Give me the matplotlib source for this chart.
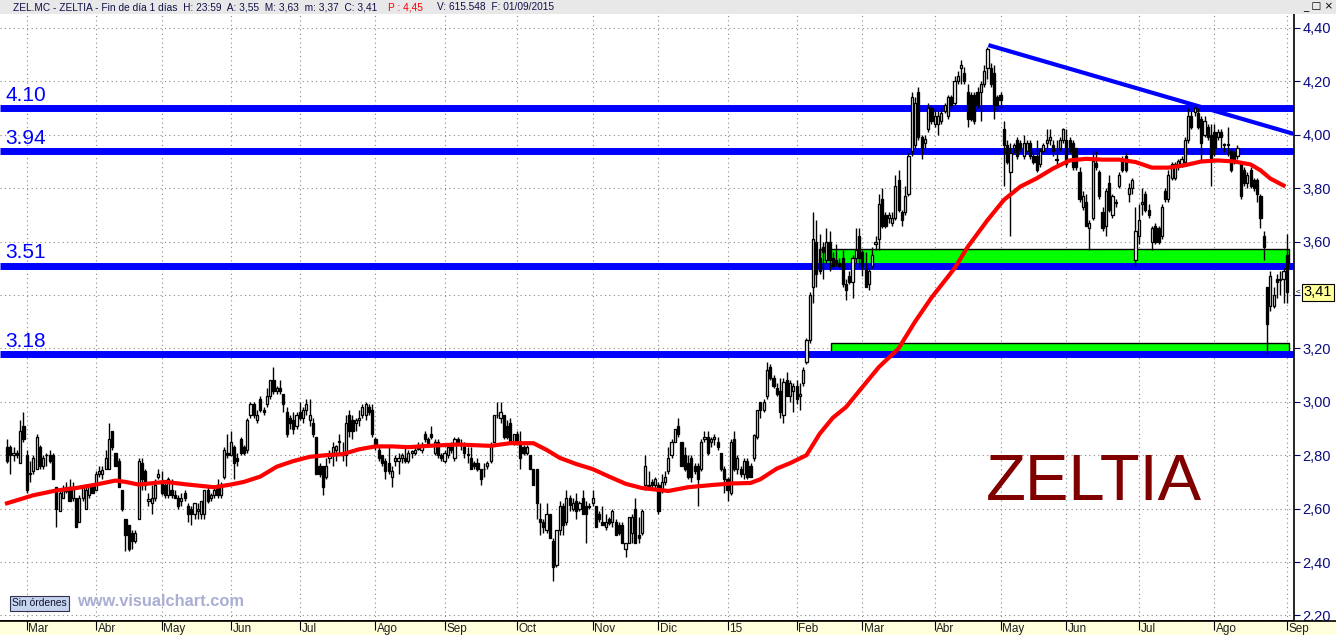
import matplotlib
matplotlib.use('Agg')
import matplotlib.pyplot as plt
import matplotlib.transforms as mtransforms
from matplotlib.patches import Rectangle
import numpy as np

plt.rcParams['font.family'] = ['Liberation Sans', 'DejaVu Sans']

# ---------------- DATA ----------------
# Daily candles, ZEL.MC, late Feb 2014 .. 1 Sep 2015 (one row per month)
opens = [
    2.83, 2.83, 2.80, 2.81, 2.77, 2.91,
    2.80, 2.73, 2.74, 2.75, 2.83, 2.76, 2.80, 2.80, 2.80, 2.68, 2.59, 2.64, 2.665, 2.68, 2.64, 2.64, 2.55, 2.64, 2.60, 2.65, 2.69,
    2.67, 2.73, 2.73, 2.75, 2.75, 2.89, 2.81, 2.78, 2.67, 2.56, 2.54, 2.51, 2.48, 2.56, 2.77, 2.74, 2.63, 2.62, 2.64, 2.72,
    2.70, 2.69, 2.65, 2.67, 2.65, 2.64, 2.63, 2.66, 2.61, 2.60, 2.58, 2.59, 2.58, 2.58, 2.67, 2.64, 2.65, 2.68, 2.65, 2.72, 2.81,
    2.80, 2.83, 2.79, 2.86, 2.83, 2.82, 2.95, 2.99, 2.93, 3.01, 2.97, 2.99, 3.02, 3.08, 3.04, 3.05, 3.03, 2.96, 2.94, 2.93, 2.91,
    2.96, 2.94, 2.97, 2.93, 2.92, 2.87, 2.76, 2.76, 2.72, 2.79, 2.81, 2.82, 2.85, 2.80, 2.80, 2.95, 2.93, 2.92, 2.93, 2.95, 2.95, 2.98, 2.97,
    2.86, 2.82, 2.80, 2.78, 2.77, 2.72, 2.78, 2.78, 2.79, 2.79, 2.78, 2.81, 2.81, 2.83, 2.82, 2.88, 2.86, 2.88, 2.81, 2.85, 2.80,
    2.78, 2.80, 2.83, 2.79, 2.86, 2.84, 2.83, 2.80, 2.79, 2.77, 2.77, 2.75, 2.75, 2.76, 2.78, 2.85, 2.95, 2.94, 2.95, 2.91, 2.92, 2.85,
    2.88, 2.85, 2.83, 2.81, 2.80, 2.75, 2.75, 2.56, 2.55, 2.52, 2.58, 2.48, 2.39, 2.52, 2.61, 2.55, 2.64, 2.60, 2.63, 2.60, 2.64, 2.61, 2.61,
    2.62, 2.61, 2.58, 2.55, 2.53, 2.56, 2.55, 2.55, 2.54, 2.54, 2.45, 2.47, 2.51, 2.60, 2.50, 2.51, 2.69, 2.69, 2.70, 2.69,
    2.69, 2.67, 2.70, 2.74, 2.80, 2.85, 2.91, 2.85, 2.80, 2.77, 2.79, 2.76, 2.76, 2.75, 2.86, 2.87, 2.85, 2.86, 2.85, 2.81, 2.75,
    2.71, 2.66, 2.86, 2.75, 2.75, 2.73, 2.78, 2.76, 2.79, 2.87, 3.00, 2.97, 3.02, 3.13, 3.09, 3.05, 3.04, 2.95, 3.08, 3.02, 3.04,
    3.06, 3.02, 3.07, 3.15, 3.23, 3.43, 3.60, 3.54, 3.58, 3.53, 3.60, 3.54, 3.53, 3.52, 3.54, 3.44, 3.47, 3.45, 3.54, 3.62,
    3.56, 3.50, 3.44, 3.51, 3.59, 3.61, 3.76, 3.70, 3.69, 3.67, 3.69, 3.83, 3.71, 3.71, 3.78, 3.94, 3.96, 4.16, 3.99, 3.97, 4.02, 4.10,
    4.04, 4.04, 4.05, 4.09, 4.07, 4.14, 4.12, 4.20, 4.25, 4.23, 4.16, 4.15, 4.15, 4.16, 4.16, 4.19, 4.25, 4.25, 4.23, 4.14,
    4.15, 4.02, 3.96, 3.86, 3.95, 3.98, 3.97, 3.92, 3.94, 3.97, 3.92, 3.92, 3.89, 3.94, 3.97, 3.98, 3.96, 3.905, 3.95, 3.98,
    3.98, 3.98, 3.97, 3.95, 3.86, 3.73, 3.75, 3.65, 3.69, 3.895, 3.86, 3.71, 3.66, 3.82, 3.70, 3.745, 3.81, 3.91, 3.92, 3.78, 3.80, 3.53,
    3.62, 3.74, 3.78, 3.72, 3.60, 3.66, 3.65, 3.62, 3.79, 3.76, 3.84, 3.84, 3.88, 3.89, 3.90, 3.98, 4.07, 4.085, 4.08, 4.06, 4.00, 4.03, 4.00,
    4.01, 3.99, 4.01, 3.965, 3.96, 3.94, 3.93, 3.92, 3.89, 3.87, 3.82, 3.87, 3.83, 3.83, 3.77, 3.62, 3.43, 3.36, 3.36, 3.46, 3.455, 3.46,
    3.55,
]
highs = [
    2.86, 2.84, 2.83, 2.82, 2.93, 2.96,
    2.82, 2.78, 2.80, 2.88, 2.84, 2.80, 2.81, 2.82, 2.81, 2.68, 2.67, 2.69, 2.70, 2.71, 2.70, 2.64, 2.65, 2.69, 2.68, 2.69, 2.69,
    2.74, 2.76, 2.76, 2.82, 2.92, 2.89, 2.81, 2.79, 2.67, 2.56, 2.54, 2.52, 2.52, 2.79, 2.79, 2.75, 2.66, 2.69, 2.71, 2.75,
    2.74, 2.70, 2.72, 2.71, 2.67, 2.65, 2.66, 2.67, 2.62, 2.61, 2.62, 2.62, 2.63, 2.67, 2.68, 2.66, 2.68, 2.71, 2.70, 2.83, 2.88,
    2.89, 2.84, 2.81, 2.87, 2.84, 2.94, 3.00, 3.00, 2.97, 3.02, 2.98, 3.05, 3.08, 3.13, 3.06, 3.08, 3.03, 2.98, 2.95, 2.96, 2.96,
    3.00, 2.98, 3.01, 3.01, 2.94, 2.87, 2.77, 2.76, 2.79, 2.82, 2.85, 2.84, 2.88, 2.85, 2.95, 2.97, 2.95, 2.94, 2.97, 2.99, 3.00, 2.99, 2.99,
    2.87, 2.83, 2.80, 2.79, 2.84, 2.76, 2.80, 2.81, 2.81, 2.83, 2.82, 2.82, 2.83, 2.85, 2.85, 2.89, 2.87, 2.91, 2.86, 2.86, 2.81,
    2.82, 2.84, 2.85, 2.87, 2.87, 2.86, 2.85, 2.83, 2.83, 2.78, 2.79, 2.75, 2.77, 2.78, 2.85, 2.95, 3.00, 3.00, 2.95, 2.93, 2.94, 2.88,
    2.89, 2.89, 2.84, 2.84, 2.80, 2.75, 2.75, 2.62, 2.56, 2.62, 2.58, 2.49, 2.52, 2.63, 2.62, 2.67, 2.65, 2.64, 2.66, 2.63, 2.67, 2.63, 2.62,
    2.67, 2.61, 2.59, 2.61, 2.58, 2.57, 2.60, 2.56, 2.55, 2.55, 2.47, 2.57, 2.58, 2.64, 2.57, 2.60, 2.80, 2.74, 2.71, 2.72,
    2.70, 2.73, 2.74, 2.83, 2.86, 2.90, 2.94, 2.85, 2.83, 2.80, 2.80, 2.77, 2.77, 2.86, 2.89, 2.89, 2.87, 2.88, 2.87, 2.81, 2.76,
    2.72, 2.86, 2.89, 2.80, 2.76, 2.79, 2.79, 2.77, 2.88, 2.97, 3.00, 3.01, 3.15, 3.14, 3.10, 3.07, 3.09, 3.09, 3.11, 3.08, 3.07,
    3.08, 3.07, 3.13, 3.24, 3.41, 3.71, 3.68, 3.63, 3.60, 3.65, 3.64, 3.56, 3.59, 3.54, 3.57, 3.46, 3.49, 3.55, 3.65, 3.65,
    3.57, 3.56, 3.50, 3.58, 3.62, 3.78, 3.80, 3.71, 3.71, 3.71, 3.85, 3.87, 3.72, 3.81, 3.93, 4.16, 4.14, 4.18, 4.00, 4.00, 4.12, 4.11,
    4.095, 4.09, 4.10, 4.12, 4.15, 4.15, 4.22, 4.24, 4.28, 4.255, 4.19, 4.16, 4.16, 4.18, 4.20, 4.26, 4.33, 4.27, 4.26, 4.15,
    4.16, 4.05, 3.98, 3.97, 3.97, 3.99, 3.98, 4.00, 3.98, 3.98, 3.94, 3.98, 3.95, 3.97, 4.02, 4.02, 3.98, 3.98, 3.99, 4.025,
    4.02, 3.99, 3.98, 3.95, 3.88, 3.79, 3.78, 3.68, 3.94, 3.94, 3.87, 3.73, 3.80, 3.85, 3.78, 3.76, 3.86, 3.92, 3.93, 3.82, 3.84, 3.73,
    3.74, 3.80, 3.79, 3.74, 3.66, 3.67, 3.66, 3.74, 3.80, 3.87, 3.90, 3.90, 3.91, 3.92, 3.99, 4.10, 4.09, 4.11, 4.10, 4.07, 4.07, 4.04, 4.04,
    4.04, 4.02, 4.02, 3.97, 4.03, 3.95, 3.94, 3.96, 3.90, 3.88, 3.86, 3.88, 3.84, 3.84, 3.78, 3.64, 3.43, 3.49, 3.43, 3.48, 3.49, 3.50,
    3.63,
]
lows = [
    2.77, 2.73, 2.78, 2.79, 2.77, 2.85,
    2.66, 2.70, 2.73, 2.75, 2.75, 2.75, 2.76, 2.77, 2.71, 2.53, 2.59, 2.64, 2.66, 2.63, 2.63, 2.53, 2.55, 2.63, 2.60, 2.64, 2.66,
    2.67, 2.72, 2.71, 2.75, 2.75, 2.82, 2.76, 2.68, 2.59, 2.44, 2.44, 2.45, 2.47, 2.56, 2.67, 2.67, 2.61, 2.58, 2.63, 2.71,
    2.65, 2.64, 2.64, 2.64, 2.64, 2.60, 2.61, 2.63, 2.55, 2.54, 2.56, 2.56, 2.56, 2.56, 2.62, 2.63, 2.64, 2.64, 2.64, 2.71, 2.79,
    2.80, 2.71, 2.76, 2.80, 2.80, 2.81, 2.94, 2.94, 2.92, 2.96, 2.95, 2.98, 3.01, 3.03, 3.03, 3.03, 2.96, 2.87, 2.90, 2.88, 2.90,
    2.93, 2.92, 2.95, 2.91, 2.87, 2.73, 2.72, 2.65, 2.71, 2.77, 2.76, 2.78, 2.80, 2.78, 2.76, 2.87, 2.86, 2.89, 2.91, 2.94, 2.93, 2.95, 2.87,
    2.82, 2.78, 2.76, 2.71, 2.73, 2.68, 2.76, 2.73, 2.77, 2.77, 2.77, 2.79, 2.80, 2.82, 2.81, 2.85, 2.84, 2.86, 2.80, 2.79, 2.78,
    2.77, 2.79, 2.81, 2.78, 2.84, 2.82, 2.79, 2.77, 2.75, 2.75, 2.74, 2.69, 2.72, 2.75, 2.77, 2.85, 2.94, 2.92, 2.86, 2.86, 2.85, 2.84,
    2.84, 2.75, 2.80, 2.80, 2.75, 2.69, 2.56, 2.50, 2.51, 2.51, 2.49, 2.33, 2.38, 2.50, 2.50, 2.54, 2.59, 2.59, 2.56, 2.59, 2.58, 2.47, 2.60,
    2.61, 2.53, 2.55, 2.54, 2.52, 2.54, 2.53, 2.50, 2.50, 2.47, 2.42, 2.47, 2.47, 2.47, 2.47, 2.50, 2.67, 2.68, 2.67, 2.67,
    2.58, 2.66, 2.69, 2.73, 2.79, 2.85, 2.87, 2.76, 2.74, 2.71, 2.70, 2.73, 2.61, 2.74, 2.85, 2.80, 2.83, 2.84, 2.82, 2.74, 2.66,
    2.63, 2.65, 2.74, 2.73, 2.72, 2.71, 2.71, 2.72, 2.78, 2.86, 2.94, 2.96, 3.01, 3.08, 3.05, 3.02, 2.94, 2.92, 3.02, 3.00, 2.96,
    2.99, 2.97, 3.06, 3.14, 3.22, 3.37, 3.43, 3.48, 3.46, 3.52, 3.49, 3.50, 3.51, 3.50, 3.43, 3.38, 3.44, 3.39, 3.52, 3.50,
    3.47, 3.43, 3.42, 3.50, 3.57, 3.57, 3.65, 3.65, 3.67, 3.66, 3.68, 3.71, 3.66, 3.70, 3.77, 3.92, 3.95, 3.98, 3.91, 3.95, 4.01, 4.04,
    4.03, 4.00, 4.04, 4.08, 4.06, 4.10, 4.11, 4.19, 4.19, 4.19, 4.03, 4.05, 4.04, 4.10, 4.05, 4.18, 4.21, 4.18, 4.06, 4.09,
    4.10, 3.81, 3.89, 3.62, 3.93, 3.91, 3.94, 3.91, 3.93, 3.91, 3.89, 3.86, 3.88, 3.93, 3.95, 3.96, 3.92, 3.88, 3.94, 3.97,
    3.88, 3.93, 3.87, 3.87, 3.75, 3.72, 3.66, 3.57, 3.68, 3.87, 3.76, 3.64, 3.62, 3.71, 3.69, 3.73, 3.80, 3.86, 3.86, 3.75, 3.78, 3.51,
    3.59, 3.70, 3.71, 3.69, 3.57, 3.59, 3.59, 3.61, 3.75, 3.75, 3.83, 3.83, 3.87, 3.88, 3.89, 3.97, 4.02, 4.07, 4.02, 3.90, 3.99, 3.98, 3.81,
    3.92, 3.98, 3.95, 3.935, 3.92, 3.86, 3.89, 3.91, 3.76, 3.81, 3.80, 3.80, 3.79, 3.75, 3.65, 3.53, 3.18, 3.34, 3.35, 3.39, 3.40, 3.37,
    3.37,
]
closes = [
    2.78, 2.80, 2.81, 2.80, 2.89, 2.86,
    2.67, 2.735, 2.79, 2.87, 2.76, 2.79, 2.80, 2.78, 2.71, 2.60, 2.66, 2.67, 2.68, 2.63, 2.68, 2.53, 2.64, 2.68, 2.67, 2.69, 2.66,
    2.73, 2.74, 2.745, 2.79, 2.86, 2.83, 2.76, 2.68, 2.60, 2.50, 2.45, 2.48, 2.51, 2.78, 2.71, 2.69, 2.635, 2.64, 2.69, 2.73,
    2.66, 2.65, 2.71, 2.65, 2.64, 2.61, 2.64, 2.64, 2.58, 2.58, 2.62, 2.60, 2.63, 2.67, 2.63, 2.65, 2.67, 2.65, 2.69, 2.82, 2.80,
    2.85, 2.77, 2.78, 2.81, 2.81, 2.93, 2.99, 2.95, 2.95, 2.97, 2.96, 3.02, 3.08, 3.04, 3.05, 3.04, 2.99, 2.88, 2.92, 2.90, 2.95,
    2.94, 2.97, 2.99, 2.95, 2.88, 2.73, 2.73, 2.68, 2.76, 2.81, 2.83, 2.835, 2.855, 2.81, 2.92, 2.89, 2.89, 2.93, 2.94, 2.98, 2.99, 2.96, 2.88,
    2.84, 2.79, 2.77, 2.74, 2.74, 2.74, 2.79, 2.79, 2.80, 2.78, 2.81, 2.815, 2.82, 2.825, 2.84, 2.86, 2.845, 2.87, 2.85, 2.80, 2.79,
    2.81, 2.83, 2.82, 2.86, 2.85, 2.845, 2.81, 2.805, 2.75, 2.76, 2.75, 2.71, 2.75, 2.77, 2.84, 2.95, 2.95, 2.96, 2.87, 2.87, 2.85, 2.88,
    2.85, 2.79, 2.81, 2.83, 2.75, 2.69, 2.62, 2.55, 2.53, 2.58, 2.49, 2.38, 2.52, 2.61, 2.54, 2.64, 2.615, 2.62, 2.59, 2.62, 2.58, 2.58, 2.605,
    2.64, 2.53, 2.56, 2.54, 2.55, 2.545, 2.59, 2.50, 2.51, 2.47, 2.47, 2.57, 2.57, 2.47, 2.49, 2.59, 2.76, 2.68, 2.69, 2.71,
    2.59, 2.70, 2.72, 2.79, 2.85, 2.90, 2.88, 2.76, 2.75, 2.72, 2.72, 2.74, 2.71, 2.85, 2.87, 2.81, 2.86, 2.87, 2.83, 2.75, 2.71,
    2.67, 2.85, 2.75, 2.79, 2.73, 2.78, 2.72, 2.72, 2.875, 2.97, 2.97, 3.00, 3.12, 3.09, 3.06, 3.03, 2.96, 3.075, 3.02, 3.07, 3.06,
    3.01, 3.03, 3.12, 3.23, 3.40, 3.61, 3.48, 3.49, 3.56, 3.60, 3.53, 3.51, 3.52, 3.51, 3.44, 3.42, 3.45, 3.54, 3.57, 3.54,
    3.51, 3.43, 3.49, 3.55, 3.60, 3.74, 3.66, 3.66, 3.70, 3.69, 3.81, 3.72, 3.68, 3.77, 3.92, 4.14, 4.12, 3.99, 3.95, 3.985, 4.10, 4.05,
    4.07, 4.07, 4.08, 4.11, 4.14, 4.11, 4.20, 4.22, 4.26, 4.20, 4.06, 4.06, 4.05, 4.11, 4.19, 4.24, 4.32, 4.19, 4.11, 4.11,
    4.13, 3.96, 3.90, 3.93, 3.96, 3.92, 3.95, 3.97, 3.97, 3.92, 3.90, 3.87, 3.94, 3.96, 3.98, 3.99, 3.94, 3.91, 3.98, 4.02,
    3.89, 3.94, 3.88, 3.88, 3.76, 3.77, 3.66, 3.67, 3.90, 3.88, 3.77, 3.65, 3.79, 3.72, 3.77, 3.75, 3.85, 3.87, 3.87, 3.80, 3.83, 3.64,
    3.68, 3.75, 3.72, 3.70, 3.65, 3.60, 3.60, 3.73, 3.76, 3.85, 3.89, 3.89, 3.90, 3.91, 3.98, 4.07, 4.03, 4.10, 4.03, 3.97, 4.05, 3.99, 3.91,
    3.95, 4.01, 3.99, 3.96, 3.965, 3.87, 3.90, 3.95, 3.77, 3.82, 3.85, 3.81, 3.80, 3.78, 3.69, 3.58, 3.29, 3.47, 3.40, 3.45, 3.46, 3.49,
    3.41,
]

# Month axis: candles before the first label, then trading days per month
lead_days = 6
month_days = [21, 20, 21, 21, 23, 21, 22, 23, 20, 21, 21, 20, 22, 20, 20, 22, 23, 22]
month_labels = ['Mar', 'Abr', 'May', 'Jun', 'Jul', 'Ago', 'Sep', 'Oct', 'Nov', 'Dic',
                '15', 'Feb', 'Mar', 'Abr', 'May', 'Jun', 'Jul', 'Ago', 'Sep']

# Moving average: candle index -> value
ma_idx = [0, 8, 15, 21, 27, 33, 36, 40, 48, 55, 59, 63, 68, 72, 77, 82, 87, 92, 97, 102,
          107, 112, 117, 122, 128, 137, 147, 153, 160, 164, 168, 173, 178, 183, 188, 193, 201, 207, 214, 220,
          226, 229, 234, 238, 243, 247, 251, 255, 259, 265, 271, 276, 281, 288, 292, 298, 303, 308, 313, 318,
          323, 328, 333, 338, 343, 348, 353, 358, 363, 368, 373, 378, 381, 384, 388]
ma_val = [2.62, 2.65, 2.668, 2.677, 2.69, 2.705, 2.70, 2.69, 2.70, 2.69, 2.685, 2.68, 2.69, 2.70, 2.72, 2.757, 2.778, 2.794, 2.80, 2.804,
          2.822, 2.833, 2.833, 2.83, 2.835, 2.84, 2.835, 2.845, 2.845, 2.82, 2.79, 2.767, 2.748, 2.72, 2.693, 2.677, 2.666, 2.68, 2.688, 2.694,
          2.696, 2.71, 2.75, 2.77, 2.80, 2.88, 2.94, 2.98, 3.04, 3.13, 3.20, 3.30, 3.39, 3.50, 3.58, 3.68, 3.756, 3.806, 3.837, 3.874,
          3.904, 3.91, 3.907, 3.907, 3.898, 3.877, 3.877, 3.886, 3.90, 3.904, 3.90, 3.889, 3.867, 3.836, 3.81]

# Horizontal support / resistance levels
levels = [4.10, 3.94, 3.51, 3.18]
level_labels = ['4.10', '3.94', '3.51', '3.18']

# Down trend line (candle index, price)
trend_idx = [298.3, 391.2]
trend_price = [4.336, 4.003]

# Green zones
zone_start = [246.8, 250.5]
zone_end = [389.7, 389.7]
zone_low = [3.51, 3.18]
zone_high = [3.572, 3.22]

last_close_label = '3,41'
header_a = 'ZEL.MC - ZELTIA - Fin de día 1 días  H: 23:59  A: 3,55  M: 3,63  m: 3,37  C: 3,41'
header_p = 'P : 4,45'
header_v = 'V: 615.548  F: 01/09/2015'

# ---------------- LAYOUT ----------------
W, H = 1336, 635
PX0, STEP = 7.0, 3.29          # pixel x of first candle, pixels per candle
PLOT_R, PLOT_T, PLOT_B = 1294, 14, 621
Y_REF_PX, Y_REF_P, PX_PER_UNIT = 28.0, 4.40, 267.0

def px_to_idx(px):
    return (px - PX0) / STEP

def px_to_price(py):
    return Y_REF_P - (py - Y_REF_PX) / PX_PER_UNIT

fig = plt.figure(figsize=(W / 100, H / 100), dpi=100)
fig.patch.set_facecolor('white')

ax = fig.add_axes([0, 1 - PLOT_B / H, PLOT_R / W, (PLOT_B - PLOT_T) / H])
ax.set_facecolor('white')
ax.set_xlim(px_to_idx(0), px_to_idx(PLOT_R))
ax.set_ylim(px_to_price(PLOT_B), px_to_price(PLOT_T))

o = np.array(opens); h = np.array(highs); l = np.array(lows); c = np.array(closes)
n = len(c)
x = np.arange(n)

tick_pos = list(np.cumsum([lead_days] + month_days))

# grid
grid_kw = dict(color='#8a8a8a', lw=0.8, ls=(0, (1, 3)), zorder=1)
for t in tick_pos:
    ax.axvline(t, **grid_kw)
yticks = np.round(np.arange(2.20, 4.401, 0.20), 2)
for v in yticks:
    ax.axhline(v, **grid_kw)

# green zones
for xs, xe, lo, hi in zip(zone_start, zone_end, zone_low, zone_high):
    ax.add_patch(Rectangle((xs, lo), xe - xs, hi - lo, facecolor='#00FF00',
                           edgecolor='black', lw=1.0, zorder=2))

# horizontal levels
for v, lab in zip(levels, level_labels):
    ax.axhline(v, color='#0000FF', lw=5.0, zorder=2.5, solid_capstyle='butt')
    ax.text(px_to_idx(5), v + 0.012, lab, color='#0000FF', fontsize=15,
            va='bottom', ha='left', zorder=6)

# trend line
ax.plot(trend_idx, trend_price, color='#0000FF', lw=3.0, zorder=2.6,
        solid_capstyle='butt')

# candles
wick_lo = np.minimum(l, np.minimum(o, c))
wick_hi = np.maximum(h, np.maximum(o, c))
ax.vlines(x, wick_lo, wick_hi, color='black', lw=1.0, zorder=3)
colors = np.where(c >= o, 'white', 'black')
ax.bar(x, np.abs(c - o), bottom=np.minimum(o, c), width=0.66, color=colors,
       edgecolor='black', linewidth=0.95, zorder=4)

# moving average
ax.plot(ma_idx, ma_val, color='#FF0000', lw=3.0, zorder=5, solid_joinstyle='round')

# axes styling (the 3,40 label sits under the last-price box, as in the source)
ax.set_xticks([])
ax.yaxis.tick_right()
ax.set_yticks(yticks)
ax.set_yticklabels(['' if abs(v - 3.40) < 1e-6 else f'{v:.2f}'.replace('.', ',') for v in yticks])
ax.tick_params(axis='y', length=4, width=0.8, color='#000060', labelcolor='#0c0c80',
               labelsize=10.5, pad=2)
for s in ['top', 'left']:
    ax.spines[s].set_visible(False)
ax.spines['right'].set_color('black'); ax.spines['right'].set_linewidth(1.2)
ax.spines['bottom'].set_color('black'); ax.spines['bottom'].set_linewidth(1.2)

# last price box
blend = mtransforms.blended_transform_factory(ax.transAxes, ax.transData)
ax.text(1 + 9.5 / PLOT_R, closes[-1], last_close_label, transform=blend, fontsize=10.5,
        color='black', va='center', ha='left', clip_on=False, zorder=10,
        bbox=dict(boxstyle='square,pad=0.12', fc='#FFFF99', ec='black', lw=0.8))
ax.text(1 + 2 / PLOT_R, closes[-1], '<', transform=blend, fontsize=6,
        color='black', va='center', ha='left', clip_on=False, zorder=10)

# big title
fig.text(986 / W, 1 - 500 / H, 'ZELTIA', fontsize=47, color='#800000',
         va='baseline', ha='left')

# bottom strip with months
sax = fig.add_axes([0, 0, 1, (H - PLOT_B) / H], zorder=3)
sax.set_facecolor('#FFFFDD')
sax.set_xlim(px_to_idx(0), px_to_idx(W))
sax.set_ylim(0, 1)
sax.set_xticks([]); sax.set_yticks([])
for s in ['bottom', 'left', 'right']:
    sax.spines[s].set_visible(False)
sax.spines['top'].set_color('black'); sax.spines['top'].set_linewidth(1.2)
for t, lab in zip(tick_pos, month_labels):
    sax.vlines(t, 0.35, 1.0, color='black', lw=0.8)
    sax.text(t + 0.5, 0.85, lab, fontsize=8.5, va='top', ha='left', color='#202020')

# header bar
hax = fig.add_axes([0, 1 - PLOT_T / H, 1, PLOT_T / H], zorder=3)
hax.set_facecolor('#E8E8E8')
hax.set_xticks([]); hax.set_yticks([])
for s in hax.spines.values():
    s.set_visible(False)
fig.text(13 / W, 1 - 7.5 / H, header_a, fontsize=7.3, color='#10104a', va='center', ha='left', zorder=4)
fig.text(388 / W, 1 - 7.5 / H, header_p, fontsize=7.3, color='#FF0000', va='center', ha='left', zorder=4)
fig.text(437 / W, 1 - 7.5 / H, header_v, fontsize=7.3, color='#10104a', va='center', ha='left', zorder=4)
fig.text(1303 / W, 1 - 7 / H, '_ □ ×', fontsize=7.5, color='black', va='center', ha='left',
         family='DejaVu Sans', zorder=4)

# footer labels inside plot
fig.text(12 / W, 1 - 603.5 / H, 'Sin órdenes', fontsize=7.4, color='#101030', va='center', ha='left',
         zorder=4, bbox=dict(boxstyle='square,pad=0.22', fc='#C5D5EE', ec='#303050', lw=0.8))
fig.text(77 / W, 1 - 601.5 / H, 'www.visualchart.com', fontsize=11.8, weight='bold',
         color='#A9AED2', va='center', ha='left', zorder=4)

fig.savefig('out.png', dpi=100, facecolor='white')
